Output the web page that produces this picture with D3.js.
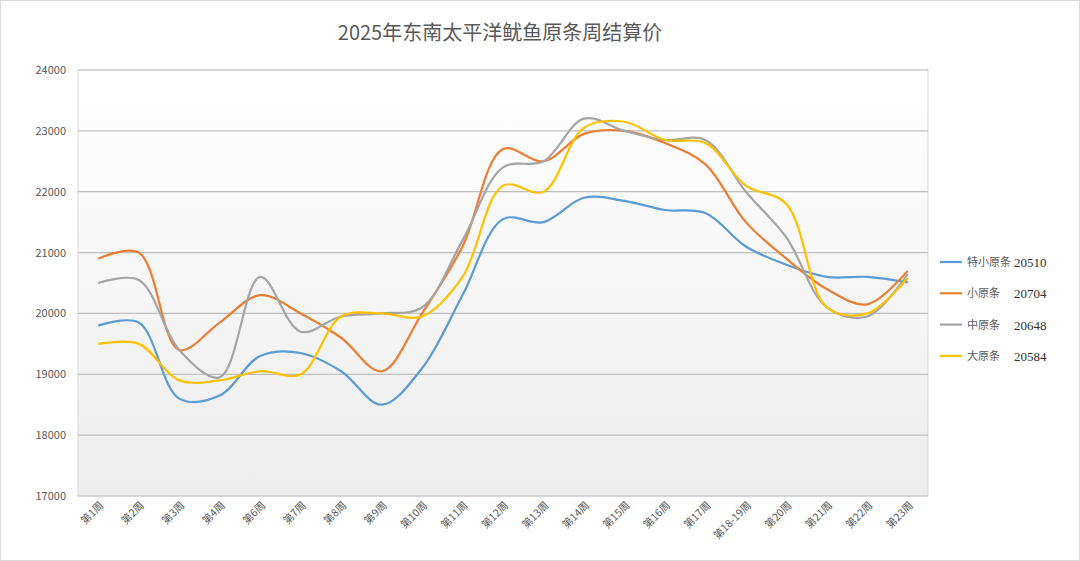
<!DOCTYPE html>
<html><head><meta charset="utf-8">
<script src="https://cdn.jsdelivr.net/npm/d3@7"></script>
<style>body{margin:0;background:#fff}svg{font-family:"Noto Sans CJK SC","Noto Sans",sans-serif}</style>
</head><body><svg id="c" width="1080" height="561"></svg>
<script>
const categories=["第1周","第2周","第3周","第4周","第6周","第7周","第8周","第9周","第10周","第11周","第12周","第13周","第14周","第15周","第16周","第17周","第18-19周","第20周","第21周","第22周","第23周"];
const seriesNames=["特小原条","小原条","中原条","大原条"];
const seriesValues=["20510","20704","20648","20584"];
const colors=["#5b9bd5","#ed7d31","#a5a5a5","#ffc000"];
const s1=[19800,19850,18600,18650,19300,19350,19050,18500,19100,20300,21550,21500,21900,21850,21700,21650,21100,20800,20600,20600,20510];
const s2=[20900,21000,19400,19850,20300,20000,19600,19050,20000,21100,22700,22500,22950,23000,22800,22450,21500,20900,20400,20150,20704];
const s3=[20500,20550,19400,18950,20600,19700,19950,20000,20100,21200,22400,22500,23200,23000,22850,22850,22000,21250,20100,19950,20648];
const s4=[19500,19500,18900,18900,19050,19000,19950,20000,19950,20600,22100,22000,23050,23150,22850,22800,22100,21800,20100,20000,20584];
const yTicks=[17000,18000,19000,20000,21000,22000,23000,24000];
const data=[s1,s2,s3,s4];
const svg=d3.select("#c");
const L=78,R=928,T=70,B=496;
svg.append("rect").attr("x",0.5).attr("y",0.5).attr("width",1079).attr("height",560).attr("fill","#fff").attr("stroke","#d9d9d9");
const g=svg.append("defs").append("linearGradient").attr("id","bg").attr("x1",0).attr("y1",0).attr("x2",0).attr("y2",1);
g.append("stop").attr("offset","0%").attr("stop-color","#ffffff");
g.append("stop").attr("offset","100%").attr("stop-color","#ededed");
svg.append("rect").attr("x",L).attr("y",T).attr("width",R-L).attr("height",B-T).attr("fill","url(#bg)").attr("stroke","#d9d9d9");
const x=d3.scaleBand().domain(categories).range([L,R]);
const y=d3.scaleLinear().domain([17000,24000]).range([B,T]);
svg.append("g").selectAll("line").data(yTicks.slice(1)).join("line").attr("x1",L).attr("x2",R).attr("y1",d=>y(d)).attr("y2",d=>y(d)).attr("stroke","#bfbfbf").attr("stroke-width",1.2);
svg.append("line").attr("x1",L).attr("x2",R).attr("y1",B).attr("y2",B).attr("stroke","#bfbfbf");
svg.append("g").selectAll("text").data(yTicks).join("text").attr("x",L-12).attr("y",d=>y(d)+4).attr("text-anchor","end").attr("font-size",11).attr("fill","#595959").text(d=>d);
svg.append("g").selectAll("text").data(categories).join("text").attr("transform",d=>`translate(${x(d)+x.bandwidth()/2+6},${B+10}) rotate(-45)`).attr("text-anchor","end").attr("font-size",10.5).attr("fill","#595959").text(d=>d);
const line=d3.line().x((d,i)=>x(categories[i])+x.bandwidth()/2).y(d=>y(d)).curve(d3.curveCatmullRom.alpha(0.5));
data.forEach((s,k)=>svg.append("path").attr("d",line(s)).attr("fill","none").attr("stroke",colors[k]).attr("stroke-width",2.2));
svg.append("text").attr("x",500).attr("y",40).attr("text-anchor","middle").attr("font-size",20).attr("fill","#595959").text("2025年东南太平洋鱿鱼原条周结算价");
seriesNames.forEach((n,k)=>{const yy=262+k*31.3;
svg.append("line").attr("x1",940).attr("x2",962).attr("y1",yy).attr("y2",yy).attr("stroke",colors[k]).attr("stroke-width",2.2);
svg.append("text").attr("x",967).attr("y",yy+4).attr("font-size",11).attr("fill","#595959").text(n);
svg.append("text").attr("x",1014).attr("y",yy+5).attr("font-size",13).attr("font-family","Liberation Serif,serif").attr("fill","#333").text(seriesValues[k]);});
</script></body></html>
